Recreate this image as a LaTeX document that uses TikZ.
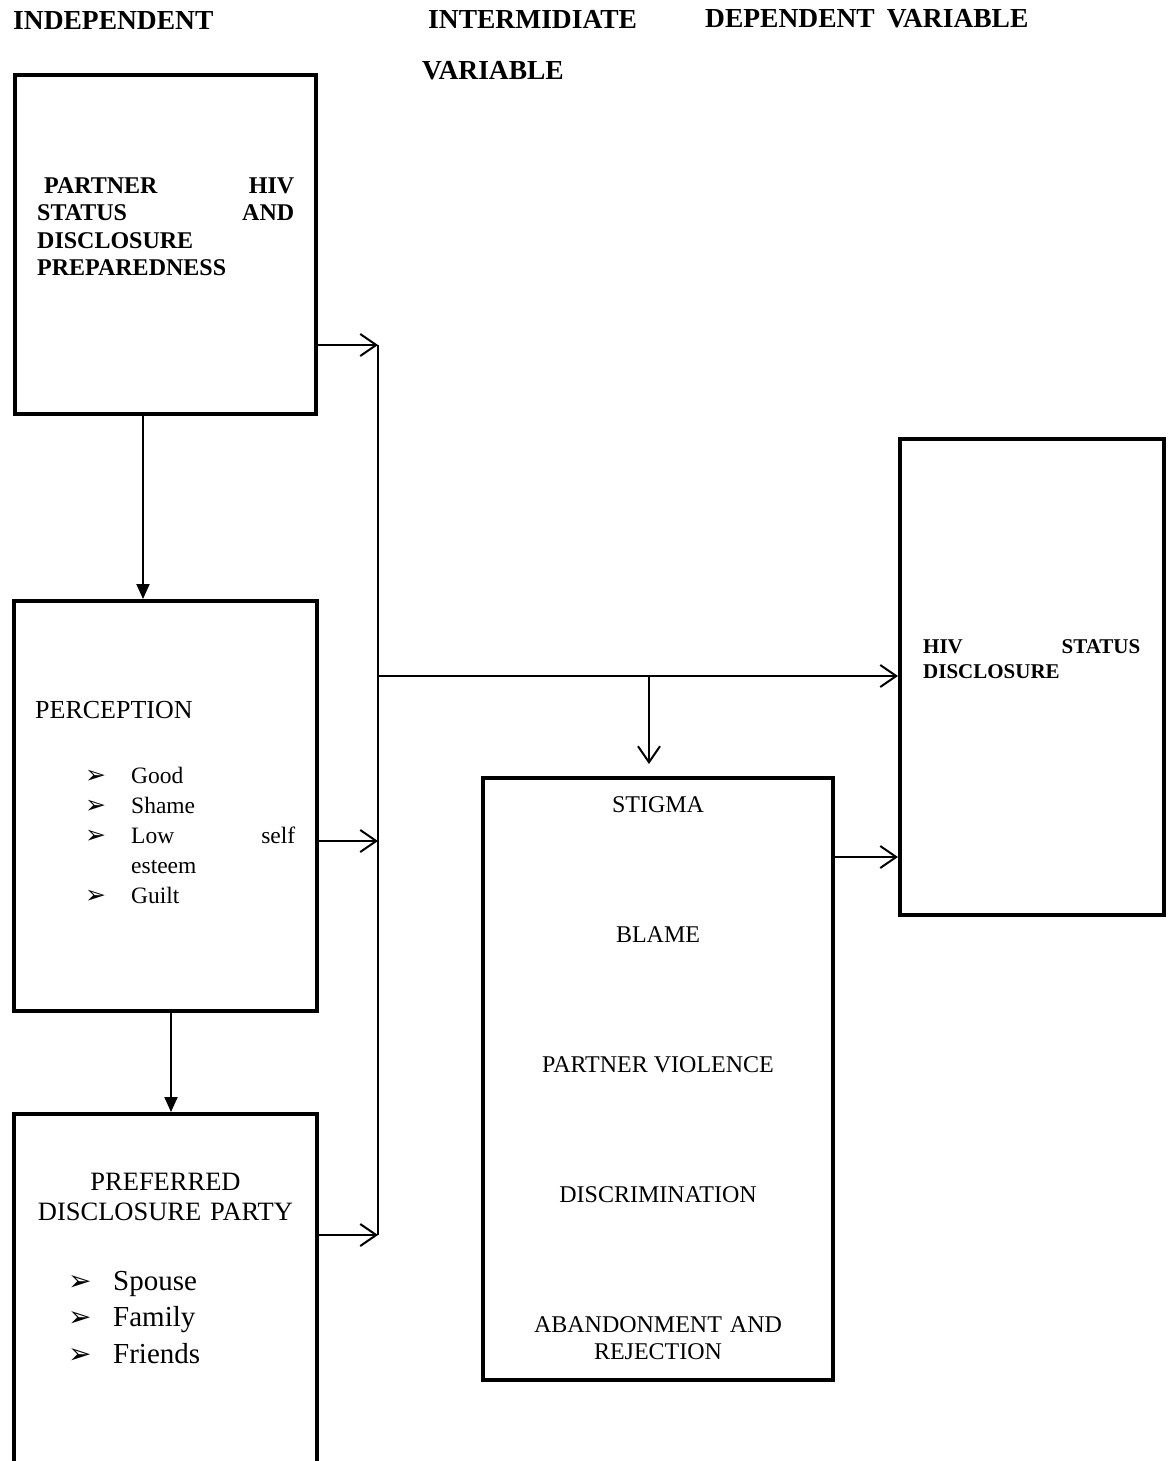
\documentclass[tikz,border=0pt]{standalone}
\usepackage{fontspec}
\setmainfont{Liberation Serif}
\newfontfamily\dejavu{DejaVu Sans}
\usetikzlibrary{arrows.meta}
\newcommand{\bulA}{\makebox[46pt][l]{\dejavu\fontsize{25}{25}\selectfont ➢}}
\newcommand{\bulB}{\makebox[45pt][l]{\dejavu\fontsize{28}{28}\selectfont ➢}}
\tikzset{
  box/.style={draw, rectangle, line width=4pt, inner sep=0pt, outer sep=2pt},
  conn/.style={line width=2pt},
  barb/.style={conn, -{Straight Barb[length=16pt,width=22pt,line width=2pt]}},
  tri/.style={conn, -{Triangle[length=15pt,width=13pt]}},
  hdr/.style={font=\fontsize{27.5}{30}\selectfont\bfseries, inner sep=0pt, anchor=base west},
  txt/.style={inner sep=0pt, font=\fontsize{24}{27}\selectfont},
}
\begin{document}
\begin{tikzpicture}[x=1pt,y=-1pt]
\useasboundingbox (0,0) rectangle (1172,1461);
\fill[white] (0,0) rectangle (1172,1461);
\clip (0,0) rectangle (1172,1461);

% headers
\node[hdr] (h1) at (13,30) {INDEPENDENT};
\node[hdr] (h2) at (428,29) {INTERMIDIATE};
\node[hdr] (h3) at (422,80) {VARIABLE};
\node[hdr] (h4) at (705,28) {DEPENDENT\hspace{12pt}VARIABLE};

% boxes
\node[box, minimum width=301pt, minimum height=339pt] (b1) at (165.5,244.5) {};
\node[box, minimum width=303pt, minimum height=410pt] (b2) at (165.5,806) {};
\node[box, minimum width=303pt, minimum height=366pt] (b3) at (165.5,1297) {};
\node[box, minimum width=350pt, minimum height=602pt] (stg) at (658,1079) {};
\node[box, minimum width=264pt, minimum height=476pt] (hiv) at (1032,677) {};

% box texts
\node[txt, font=\fontsize{24}{27.5}\selectfont\bfseries, text width=257pt, align=left, anchor=base west] (t1) at (37,193)
  {\hspace*{7pt}PARTNER\hfill HIV\\ STATUS\hfill AND\\ DISCLOSURE\\ PREPAREDNESS};

\node[txt, font=\fontsize{26}{30}\selectfont, anchor=base west] (t2) at (35,718) {PERCEPTION};
\node[txt, font=\fontsize{23.5}{30}\selectfont, text width=210pt, align=left, anchor=base west] (t2b) at (85,783)
  {\bulA Good\\ \bulA Shame\\ \bulA Low\hfill self\\ \hspace*{46pt}esteem\\ \bulA Guilt};

\node[txt, font=\fontsize{26.5}{30}\selectfont, text width=300pt, align=center, anchor=base] (t3) at (165.5,1190)
  {PREFERRED\\ DISCLOSURE PARTY};
\node[txt, font=\fontsize{29}{36.5}\selectfont, text width=220pt, align=left, anchor=base west] (t3b) at (68,1290)
  {\bulB Spouse\\ \bulB Family\\ \bulB Friends};

\node[txt, anchor=base] (s1t) at (658,812) {STIGMA};
\node[txt, anchor=base] (s2t) at (658,942) {BLAME};
\node[txt, anchor=base] (s3t) at (658,1072) {PARTNER VIOLENCE};
\node[txt, anchor=base] (s4t) at (658,1202) {DISCRIMINATION};
\node[txt, text width=320pt, align=center, anchor=base] (s5t) at (658,1332) {ABANDONMENT AND\\ REJECTION};

\node[txt, font=\fontsize{21}{25}\selectfont\bfseries, text width=217pt, align=left, anchor=base west] (t4) at (923,653)
  {HIV\hfill STATUS\\ DISCLOSURE};

% junction coordinates
\coordinate (j1) at (378,345);
\coordinate (j2) at (378,841);
\coordinate (j3) at (378,1235);
\coordinate (jm) at (378,676);
\coordinate (jb) at (649,676);
\coordinate (sb) at (649,764);
\coordinate (sr) at (870,857);
\coordinate (a1) at (143,0);
\coordinate (a2) at (171,0);

% connectors
\draw[conn] (j1) -- (j3);
\draw[barb] (b1.east |- j1) -- (j1);
\draw[barb] (b2.east |- j2) -- (j2);
\draw[barb] (b3.east |- j3) -- (j3);
\draw[barb] (jm) -- (jm -| hiv.west);
\draw[barb] (jb) -- (sb);
\draw[barb] (stg.east |- sr) -- (sr -| hiv.west);
\draw[tri] (b1.south -| a1) -- (b2.north -| a1);
\draw[tri] (b2.south -| a2) -- (b3.north -| a2);
\end{tikzpicture}
\end{document}
